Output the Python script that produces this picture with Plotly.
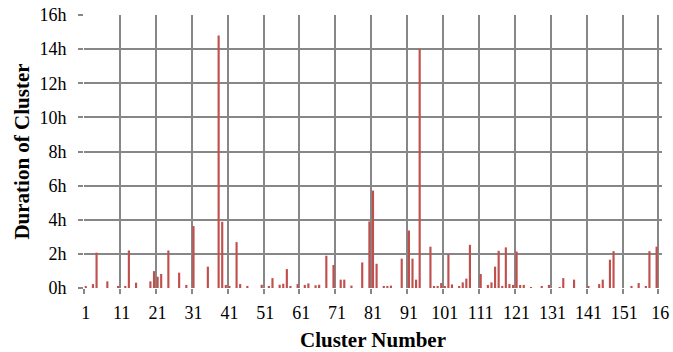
import plotly.graph_objects as go

# Cluster durations in hours (clusters not listed have no measurable duration)
clusters = [1, 3, 4, 7, 10, 12, 13, 15, 19, 20, 21, 22, 24, 27, 29, 31, 35, 38, 39, 40,
            41, 43, 44, 46, 50, 52, 53, 55, 56, 57, 58, 60, 62, 63, 65, 66, 68, 70, 72, 73,
            75, 78, 80, 81, 82, 84, 85, 86, 89, 91, 92, 93, 94, 97, 98, 99, 100, 101, 102, 103,
            105, 106, 107, 108, 111, 113, 114, 115, 116, 117, 118, 119, 120, 121, 122, 123, 125, 128, 130, 133,
            134, 137, 141, 144, 145, 147, 148, 153, 155, 157, 158, 160]
duration_hours = [0.06, 0.23, 2.07, 0.39, 0.12, 0.12, 2.2, 0.31, 0.39, 0.99, 0.66, 0.82, 2.2, 0.9, 0.18, 3.63, 1.25, 14.8, 3.88, 0.18,
                  0.12, 2.69, 0.23, 0.12, 0.19, 0.08, 0.58, 0.19, 0.25, 1.11, 0.08, 0.23, 0.18, 0.27, 0.16, 0.19, 1.89, 1.35, 0.49, 0.49,
                  0.14, 1.5, 3.9, 5.71, 1.42, 0.12, 0.08, 0.14, 1.72, 3.37, 1.72, 0.49, 14.0, 2.42, 0.08, 0.08, 0.29, 0.08, 1.97, 0.21,
                  0.08, 0.33, 0.55, 2.53, 0.82, 0.18, 0.33, 1.25, 2.18, 0.12, 2.38, 0.23, 0.18, 2.14, 0.18, 0.18, 0.04, 0.12, 0.18, 0.04,
                  0.58, 0.49, 0.08, 0.23, 0.49, 1.66, 2.16, 0.12, 0.29, 0.08, 2.16, 2.42]

n_clusters = 161
x_tick_vals = list(range(1, n_clusters + 1, 10))
x_tick_text = ["1", "11", "21", "31", "41", "51", "61", "71", "81", "91",
               "101", "111", "121", "131", "141", "151", "16"]
y_tick_vals = list(range(0, 17, 2))
y_tick_text = [f"{v}h" for v in y_tick_vals]

grid_color = "#878787"
font_family = "Liberation Serif"

fig = go.Figure(
    go.Bar(
        x=clusters,
        y=duration_hours,
        marker=dict(color="#C0504D", line=dict(width=0)),
        width=0.6,
    )
)

fig.update_layout(
    width=673,
    height=352,
    margin=dict(l=84, r=11, t=15, b=64),
    paper_bgcolor="white",
    plot_bgcolor="white",
    showlegend=False,
    font=dict(family=font_family, color="black", size=18),
)

fig.update_xaxes(
    automargin=False,
    range=[0.5, n_clusters + 0.5],
    tickmode="array",
    tickvals=x_tick_vals,
    ticktext=x_tick_text,
    showgrid=False,
    ticks="",
    ticklabelstandoff=12,
    zeroline=False,
    showline=False,
    tickfont=dict(size=18, family=font_family, color="black"),
    minor=dict(
        tickmode="array",
        tickvals=[v - 0.5 for v in x_tick_vals],
        showgrid=True,
        gridcolor=grid_color,
        gridwidth=1.5,
        ticks="outside",
        ticklen=5,
        tickwidth=1.5,
        tickcolor=grid_color,
    ),
    title=dict(text="<b>Cluster Number</b>", font=dict(size=21, family=font_family, color="black"), standoff=12),
)

fig.update_yaxes(
    automargin=False,
    range=[0, 16],
    tickmode="array",
    tickvals=y_tick_vals,
    ticktext=y_tick_text,
    showgrid=True,
    gridcolor=grid_color,
    gridwidth=1.5,
    ticks="outside",
    ticklen=5,
    tickwidth=1.5,
    tickcolor=grid_color,
    ticklabelstandoff=8,
    zeroline=False,
    showline=False,
    tickfont=dict(size=18, family=font_family, color="black"),
    title=dict(text="<b>Duration of Cluster</b>", font=dict(size=21, family=font_family, color="black"), standoff=4),
)

fig.write_html("out.html")
